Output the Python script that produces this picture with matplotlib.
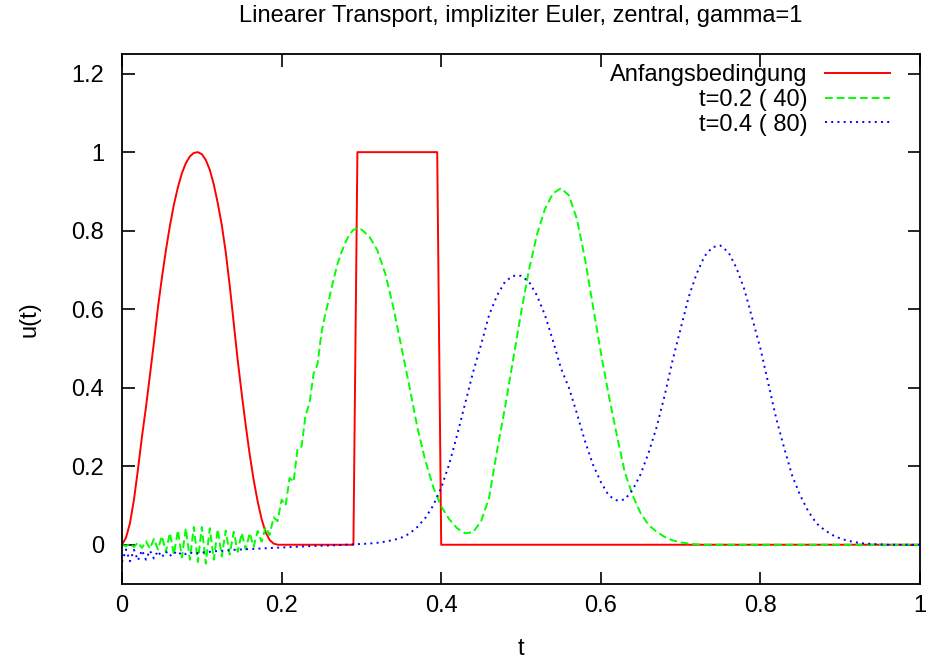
import matplotlib
matplotlib.use("Agg")
import matplotlib.pyplot as plt

plt.rcParams['font.family'] = ['Liberation Sans', 'DejaVu Sans']

# ---- data ----
red_t = [0.000, 0.005, 0.010, 0.015, 0.020, 0.025, 0.030, 0.035, 0.040, 0.045,
         0.050, 0.055, 0.060, 0.065, 0.070, 0.075, 0.080, 0.085, 0.090, 0.095,
         0.100, 0.105, 0.110, 0.115, 0.120, 0.125, 0.130, 0.135, 0.140, 0.145,
         0.150, 0.155, 0.160, 0.165, 0.170, 0.175, 0.180, 0.185, 0.190, 0.195,
         0.200, 0.290, 0.295, 0.395, 0.400, 1.000]
red_u = [0.000, 0.018, 0.055, 0.115, 0.192, 0.275, 0.350, 0.432, 0.515, 0.604,
         0.680, 0.750, 0.812, 0.866, 0.910, 0.946, 0.972, 0.989, 0.998, 1.000,
         0.995, 0.980, 0.955, 0.918, 0.870, 0.815, 0.745, 0.660, 0.565, 0.470,
         0.385, 0.305, 0.230, 0.165, 0.110, 0.065, 0.032, 0.012, 0.003, 0.000,
         0.000, 0.000, 1.000, 1.000, 0.000, 0.000]

green_t = [0.000, 0.005, 0.010, 0.015, 0.020, 0.025, 0.030, 0.035, 0.040, 0.045,
           0.050, 0.055, 0.060, 0.065, 0.070, 0.075, 0.080, 0.085, 0.090, 0.095,
           0.100, 0.105, 0.110, 0.115, 0.120, 0.125, 0.130, 0.135, 0.140, 0.145,
           0.150, 0.155, 0.160, 0.165, 0.170, 0.175, 0.180, 0.185, 0.190, 0.195,
           0.200, 0.205, 0.210, 0.215, 0.220, 0.225, 0.230, 0.235, 0.240, 0.245,
           0.250, 0.255, 0.260, 0.265, 0.270, 0.275, 0.280, 0.285, 0.290, 0.295,
           0.300, 0.31, 0.32, 0.33, 0.34, 0.35, 0.36, 0.37, 0.38, 0.39,
           0.40, 0.41, 0.42, 0.43, 0.44, 0.45, 0.46, 0.47, 0.48, 0.49,
           0.50, 0.51, 0.52, 0.53, 0.54, 0.55, 0.56, 0.57, 0.58, 0.59,
           0.60, 0.61, 0.62, 0.63, 0.64, 0.65, 0.66, 0.67, 0.68, 0.69,
           0.70, 0.71, 0.72, 0.73, 0.80, 0.90, 1.00]
green_u = [0.000, -0.004, 0.003, -0.006, 0.006, -0.008, 0.009, -0.010, 0.015, -0.012,
           0.022, -0.018, 0.030, -0.025, 0.037, -0.032, 0.042, -0.038, 0.045, -0.044,
           0.045, -0.048, 0.042, -0.038, 0.040, -0.030, 0.036, -0.025, 0.033, -0.018,
           0.030, -0.012, 0.030, -0.005, 0.035, 0.008, 0.045, 0.025, 0.070, 0.060,
           0.115, 0.100, 0.170, 0.160, 0.245, 0.250, 0.330, 0.360, 0.435, 0.460,
           0.540, 0.590, 0.630, 0.675, 0.715, 0.745, 0.770, 0.790, 0.802, 0.806,
           0.803, 0.785, 0.750, 0.690, 0.605, 0.505, 0.405, 0.300, 0.215, 0.147,
           0.098, 0.065, 0.042, 0.029, 0.032, 0.060, 0.120, 0.240, 0.350, 0.470,
           0.590, 0.700, 0.790, 0.855, 0.895, 0.908, 0.890, 0.830, 0.730, 0.610,
           0.490, 0.380, 0.280, 0.185, 0.125, 0.080, 0.050, 0.033, 0.020, 0.011,
           0.006, 0.003, 0.001, 0.000, 0.000, 0.000, 0.000]

blue_t = [0.000, 0.005, 0.010, 0.015, 0.020, 0.025, 0.030, 0.035, 0.040, 0.045,
          0.050, 0.055, 0.060, 0.065, 0.070, 0.075, 0.080, 0.085, 0.090, 0.095,
          0.10, 0.11, 0.12, 0.13, 0.14, 0.15, 0.16, 0.17, 0.18, 0.19,
          0.20, 0.22, 0.24, 0.26, 0.28, 0.30, 0.31, 0.32, 0.33, 0.34,
          0.35, 0.36, 0.37, 0.38, 0.39, 0.40, 0.41, 0.42, 0.43, 0.44,
          0.45, 0.46, 0.47, 0.48, 0.49, 0.50, 0.51, 0.52, 0.53, 0.54,
          0.55, 0.56, 0.57, 0.58, 0.59, 0.60, 0.61, 0.62, 0.63, 0.64,
          0.65, 0.66, 0.67, 0.68, 0.69, 0.70, 0.71, 0.72, 0.73, 0.74,
          0.75, 0.76, 0.77, 0.78, 0.79, 0.80, 0.81, 0.82, 0.83, 0.84,
          0.85, 0.86, 0.87, 0.88, 0.89, 0.90, 0.91, 0.92, 0.93, 0.94,
          0.95, 0.96, 1.00]
blue_u = [-0.044, -0.012, -0.042, -0.013, -0.040, -0.014, -0.038, -0.015, -0.035, -0.016,
          -0.032, -0.017, -0.029, -0.018, -0.026, -0.019, -0.024, -0.020, -0.022, -0.021,
          -0.020, -0.018, -0.016, -0.015, -0.013, -0.012, -0.011, -0.010, -0.009, -0.008,
          -0.007, -0.005, -0.003, -0.002, 0.000, 0.002, 0.003, 0.005, 0.008, 0.012,
          0.018, 0.028, 0.045, 0.068, 0.100, 0.145, 0.205, 0.280, 0.360, 0.440,
          0.510, 0.585, 0.635, 0.670, 0.685, 0.685, 0.670, 0.635, 0.585, 0.520,
          0.450, 0.400, 0.335, 0.265, 0.205, 0.160, 0.125, 0.113, 0.115, 0.140,
          0.180, 0.235, 0.300, 0.380, 0.470, 0.550, 0.630, 0.690, 0.735, 0.758,
          0.762, 0.745, 0.705, 0.650, 0.575, 0.500, 0.410, 0.320, 0.245, 0.175,
          0.125, 0.085, 0.055, 0.038, 0.025, 0.016, 0.010, 0.006, 0.003, 0.002,
          0.001, 0.000, 0.000]

labels = ["Anfangsbedingung", "t=0.2 ( 40)", "t=0.4 ( 80)"]
title = "Linearer Transport, impliziter Euler, zentral, gamma=1"
x_ticks = [0, 0.2, 0.4, 0.6, 0.8, 1.0]
x_ticklabels = ["0", "0.2", "0.4", "0.6", "0.8", "1"]
y_ticks = [0, 0.2, 0.4, 0.6, 0.8, 1.0, 1.2]
y_ticklabels = ["0", "0.2", "0.4", "0.6", "0.8", "1", "1.2"]

# ---- figure ----
W, H = 931, 659
L, R, T, B = 122, 920, 54, 584
fig = plt.figure(figsize=(W / 100, H / 100), dpi=100)
ax = fig.add_axes([L / W, 1 - B / H, (R - L) / W, (B - T) / H])

fs = 17
lw = 1.4
ax.plot(red_t, red_u, color="#ff0000", lw=lw, label=labels[0])
ax.plot(green_t, green_u, color="#00ff00", lw=lw, linestyle=(0, (4, 2)), label=labels[1])
ax.plot(blue_t, blue_u, color="#0000ff", lw=lw, linestyle=(0, (1, 2.2)), label=labels[2])

ax.set_xlim(0, 1)
ax.set_ylim(-0.1, 1.25)
ax.set_xticks(x_ticks)
ax.set_xticklabels(x_ticklabels)
ax.set_yticks(y_ticks)
ax.set_yticklabels(y_ticklabels)
ax.tick_params(direction="in", length=9, width=1.2, top=True, right=True,
               labelsize=fs)
ax.tick_params(axis="x", pad=8)
ax.tick_params(axis="y", pad=13)
for s in ax.spines.values():
    s.set_linewidth(1.3)

ax.set_xlabel("t", fontsize=fs, labelpad=15)
ax.set_ylabel("u(t)", fontsize=fs, labelpad=22)
fig.text((L + R) / 2 / W, 1 - 16 / H, title, fontsize=fs, ha="center", va="center")

leg = ax.legend(loc="upper right", bbox_to_anchor=((890 - L) / (R - L), (B - 64) / (B - T)),
                frameon=False, markerfirst=False, fontsize=fs,
                handlelength=2.75, handletextpad=0.75, labelspacing=0.12,
                borderaxespad=0.0, borderpad=0.0)

fig.savefig("out.png", dpi=100)
